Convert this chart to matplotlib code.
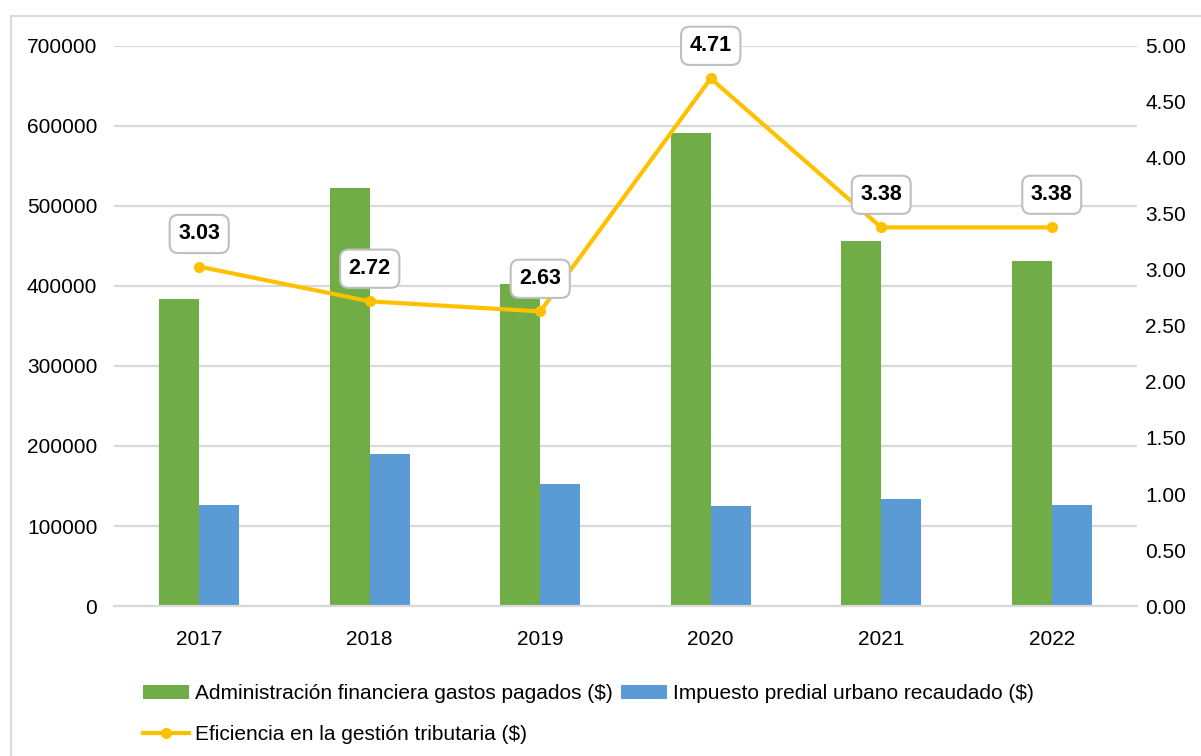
#!/usr/bin/env python3
import matplotlib
matplotlib.use("Agg")
import matplotlib.pyplot as plt
from matplotlib.patches import Rectangle
import numpy as np

plt.rcParams['font.family'] = ['Liberation Sans', 'DejaVu Sans']

# ---data---
years = ['2017', '2018', '2019', '2020', '2021', '2022']
gastos_pagados = [384000, 522500, 402500, 591000, 456000, 431000]
predial_recaudado = [126500, 190000, 152500, 125000, 134000, 126500]
eficiencia = [3.03, 2.72, 2.63, 4.71, 3.38, 3.38]
left_ticks = [0, 100000, 200000, 300000, 400000, 500000, 600000, 700000]
right_ticks = [0.0, 0.5, 1.0, 1.5, 2.0, 2.5, 3.0, 3.5, 4.0, 4.5, 5.0]

GREEN = '#70AD47'
BLUE = '#5B9BD5'
GOLD = '#FFC000'
GRID = '#D9D9D9'


def plot():
    fig = plt.figure(figsize=(12.01, 7.56), dpi=100)
    ax = fig.add_axes([0.0949, 0.1984, 0.8518, 0.7408])

    # outer chart frame (partly cut off like the screenshot)
    fig.patches.append(Rectangle((11 / 1201, -0.05), 1.2, 1 - 16 / 756 + 0.05,
                                 transform=fig.transFigure, fill=False,
                                 edgecolor=GRID, linewidth=1.5))

    x = np.arange(len(years))
    w = 0.235
    b1 = ax.bar(x - w / 2, gastos_pagados, w, color=GREEN, zorder=2,
                label='Administración financiera gastos pagados ($)')
    b2 = ax.bar(x + w / 2, predial_recaudado, w, color=BLUE, zorder=2,
                label='Impuesto predial urbano recaudado ($)')

    ax.set_xlim(-0.5, len(years) - 0.5)
    ax.set_ylim(0, 700000)
    ax.set_yticks(left_ticks)
    ax.set_yticklabels([str(t) for t in left_ticks])
    ax.set_xticks(x)
    ax.set_xticklabels(years)
    ax.yaxis.grid(True, color=GRID, linewidth=1.6, zorder=0)
    ax.set_axisbelow(True)
    for s in ['top', 'left', 'right']:
        ax.spines[s].set_visible(False)
    ax.spines['bottom'].set_color(GRID)
    ax.spines['bottom'].set_linewidth(1.6)
    ax.tick_params(axis='both', length=0, labelsize=15, colors='#000000')
    ax.tick_params(axis='y', pad=12)
    ax.tick_params(axis='x', pad=17)

    ax2 = ax.twinx()
    ln, = ax2.plot(x, eficiencia, color=GOLD, linewidth=3, marker='o',
                   markersize=7, zorder=3,
                   label='Eficiencia en la gestión tributaria ($)')
    ax2.set_ylim(0, 5)
    ax2.set_yticks(right_ticks)
    ax2.set_yticklabels([f'{t:.2f}' for t in right_ticks])
    for s in ['top', 'left', 'right', 'bottom']:
        ax2.spines[s].set_visible(False)
    ax2.tick_params(axis='y', length=0, labelsize=15, pad=6)

    for xi, v in zip(x, eficiencia):
        ax2.annotate(f'{v:.2f}', (xi, v), xytext=(0, 23.5), textcoords='offset points',
                     ha='center', va='center', fontsize=15.5, fontweight='bold',
                     bbox=dict(boxstyle='round,pad=0.4,rounding_size=0.4',
                               facecolor='white', edgecolor='#BFBFBF', linewidth=1.5),
                     zorder=5)

    fig.legend([b1, ln, b2], [b1.get_label(), ln.get_label(), b2.get_label()],
               ncol=2, loc='upper left', bbox_to_anchor=(0.112, 0.106),
               frameon=False, fontsize=15, handlelength=2.2, handletextpad=0.3,
               columnspacing=0.4, labelspacing=1.05, borderaxespad=0)

    fig.savefig('out.png', dpi=100)


if __name__ == '__main__':
    plot()
